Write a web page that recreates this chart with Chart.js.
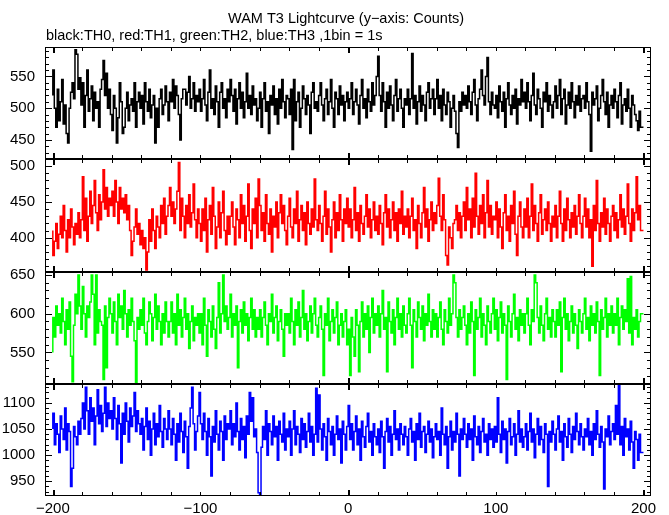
<!DOCTYPE html>
<html><head><meta charset="utf-8">
<script src="https://cdn.jsdelivr.net/npm/chart.js@4.4.1/dist/chart.umd.min.js"></script>
<style>html,body{margin:0;padding:0;background:#fff;}canvas{display:block;}</style>
</head><body>
<canvas id="c" width="669" height="515" style="width:669px;height:515px"></canvas>
<script>
const titleText = "WAM T3 Lightcurve (y\u2212axis: Counts)";
const subtitleText = "black:TH0, red:TH1, green:TH2, blue:TH3 ,1bin = 1s";
const timeStart = -200;
const binWidth = 1;
const xTickValues = [-200, -100, 0, 100, 200];
const seriesNames = ["TH0", "TH1", "TH2", "TH3"];
const seriesColors = ["#000000", "#ff0000", "#00ff00", "#0000ff"];
const yTicks0 = [450, 500, 550];
const yTicks1 = [400, 450, 500];
const yTicks2 = [550, 600, 650];
const yTicks3 = [950, 1000, 1050, 1100];
const yRange0 = [419.5, 596.4];
const yRange1 = [352.8, 509.6];
const yRange2 = [509.5, 654.4];
const yRange3 = [921.8, 1136.6];

const th0 = [
520,560,500,470,530,480,510,545,475,505,460,445,500,525,540,515,592,585,530,548,
505,540,470,520,560,495,515,535,480,525,500,510,470,530,545,575,520,555,500,530,
490,465,520,500,445,485,540,510,460,470,500,525,480,505,515,495,540,470,510,525,
500,520,475,540,510,495,530,485,505,520,445,500,470,515,530,490,505,535,510,480,
525,510,545,500,535,520,490,450,515,530,530,505,525,550,500,515,540,495,520,510,
530,495,515,545,505,480,525,560,500,515,490,535,510,470,525,540,500,515,485,530,
510,545,520,495,530,475,515,540,500,525,485,510,555,500,520,490,535,505,515,480,
500,525,470,515,540,495,510,460,520,505,535,490,515,475,530,500,545,510,485,520,
515,490,530,435,545,480,510,525,470,500,535,515,490,520,505,460,525,540,500,510,
495,520,540,505,480,515,530,490,510,545,500,470,525,515,490,535,505,520,480,510,
525,500,515,540,490,510,530,505,475,520,545,500,515,485,530,510,495,540,505,520,
550,582,520,495,540,510,470,525,500,535,505,480,520,545,495,515,530,500,470,515,
505,530,490,515,586,500,520,475,510,535,495,520,505,480,525,540,500,515,530,490,
515,545,500,520,480,530,505,490,525,510,470,500,520,495,460,438,510,495,525,505,
520,500,535,510,490,525,545,505,480,515,530,560,520,505,550,580,510,490,525,505,
500,520,485,535,510,495,525,470,515,540,505,490,520,500,530,475,515,505,545,510,
525,500,540,510,480,520,555,505,490,530,515,500,470,525,510,540,495,520,505,485,
510,535,500,520,545,490,515,530,475,505,525,500,540,510,485,520,505,535,495,515,
520,500,540,510,490,432,525,505,515,535,480,500,520,545,510,490,525,470,505,520,
500,530,510,485,520,540,475,505,515,495,530,500,470,520,505,490,480,465,495,470
];
const th1 = [
410,375,395,420,385,405,430,400,445,410,380,425,400,440,415,390,420,405,435,400,
425,485,410,455,395,430,465,420,445,480,435,410,460,425,450,495,440,470,430,455,
445,465,430,480,450,420,470,440,455,435,460,425,445,410,375,395,415,440,405,420,
390,410,385,400,355,380,425,395,440,410,385,430,415,400,445,420,455,405,430,445,
470,430,450,420,440,465,505,410,455,430,400,445,420,460,415,435,475,425,400,440,
420,395,440,410,455,380,425,445,405,470,430,385,415,450,400,435,465,410,390,430,
405,430,450,415,390,440,425,400,460,420,445,395,430,475,410,385,440,420,455,400,
482,445,410,435,395,460,420,405,440,380,430,415,450,400,435,460,420,445,410,390,
430,455,415,400,440,420,465,395,425,445,410,435,390,450,420,405,440,415,482,425,
410,445,420,395,430,465,405,440,415,380,425,450,400,435,410,460,425,395,440,420,
455,415,440,400,425,470,410,435,395,445,420,405,430,460,415,440,400,425,450,410,
430,405,445,420,390,435,460,415,440,400,425,450,410,435,395,440,420,465,405,430,
415,440,400,430,455,410,425,385,445,420,400,435,470,415,440,395,425,450,410,435,
420,445,483,430,410,460,425,375,362,415,400,385,420,425,445,410,435,400,430,450,
410,470,425,440,400,455,415,490,430,405,445,420,460,400,435,480,415,445,405,430,
425,450,400,440,415,385,435,460,410,430,395,445,420,465,405,375,430,450,415,400,
440,415,455,400,430,475,410,445,420,395,435,460,405,425,440,410,450,420,395,430,
415,445,400,430,465,420,395,440,410,455,425,400,435,415,445,405,430,460,420,400,
430,455,415,440,400,425,360,445,410,480,420,395,435,415,455,405,440,420,395,430,
445,410,435,400,425,460,415,440,405,430,475,420,395,440,410,435,485,425,445,410
];
const th2 = [
550,595,570,610,585,600,575,620,590,560,605,580,615,545,512,585,625,600,650,610,
580,635,600,570,610,595,615,650,625,560,650,575,605,590,585,515,610,530,595,620,
600,575,615,590,560,625,595,610,580,630,600,570,605,585,620,590,565,510,595,580,
605,585,620,575,560,590,615,600,565,595,625,580,610,590,560,600,575,615,590,570,
590,615,575,600,560,625,585,605,570,595,620,580,600,555,590,610,565,595,585,600,
575,600,560,620,585,545,605,590,570,610,580,555,595,640,575,600,650,590,610,580,
595,625,570,600,585,610,530,590,605,575,615,585,600,565,595,620,580,605,570,595,
580,605,570,595,615,585,560,600,590,625,575,595,610,565,590,605,580,545,600,585,
600,575,620,590,560,605,585,615,570,595,630,580,600,565,590,610,575,600,620,585,
570,595,610,580,520,600,585,620,565,590,605,575,595,615,560,585,600,570,590,605,
560,580,520,595,570,545,605,585,525,590,615,570,600,580,610,550,595,620,575,600,
585,610,570,600,630,580,595,525,615,590,575,605,560,595,620,580,600,570,610,585,
575,600,620,585,530,605,590,570,615,595,580,610,565,600,585,625,590,570,605,580,
600,570,595,615,580,560,605,590,575,620,585,600,650,640,595,570,605,580,595,610,
585,560,600,575,615,590,520,605,580,595,620,570,600,585,560,610,590,575,600,620,
580,605,565,595,615,575,600,585,515,610,590,570,600,625,580,595,565,605,585,600,
575,600,620,585,560,605,590,650,640,595,575,610,585,565,600,620,580,595,570,605,
590,570,605,585,615,525,595,620,580,600,565,590,610,575,600,585,555,605,590,575,
600,620,580,595,565,610,585,600,575,615,590,520,605,580,595,620,570,600,585,610,
575,600,585,620,560,595,610,580,605,590,645,575,648,560,595,580,605,570,590,600
];
const th3 = [
1050,1080,1020,1060,1040,1005,1075,1050,1030,1090,1010,1060,1045,940,975,1055,1035,1020,1065,1040,
1070,1100,1050,1130,1085,1040,1110,1065,1090,1020,1075,1125,1060,1095,1045,1080,1130,1055,1100,1070,
1085,1050,1110,1070,1030,1095,1060,985,1080,1040,1100,1065,1025,1090,1055,1075,1120,1045,1085,1060,
1040,1070,1010,1055,1090,1030,1065,1000,1050,1080,1020,1060,1035,1095,1045,1015,1070,1050,1030,1085,
1050,1020,1070,1040,990,1060,1025,1080,1045,1005,1065,1035,975,1055,1090,1130,1060,1010,1045,1075,
1120,1060,1030,1080,1045,1000,1070,1035,960,1055,1025,1085,1040,1010,1065,1045,990,1075,1030,1060,
1050,1085,1020,1060,1035,1100,1045,1010,1070,1030,1055,995,1075,1040,1120,1065,1110,1035,1050,1005,
928,925,1015,1055,1030,1085,1000,1060,1045,1020,1075,1035,1055,990,1065,1040,1025,1080,1010,1050,
1035,1065,1000,1050,1085,1020,1055,1040,1005,1070,1030,1060,1015,1045,1080,1025,1055,1000,1040,1128,
1025,1115,1050,1010,1060,1035,990,1070,1045,1020,1055,1000,1040,1075,1030,1050,985,1065,1040,1010,
1055,1095,1030,1060,1010,1045,1075,1020,1050,990,1065,1035,1015,1055,1080,1025,1045,1000,1060,1035,
1020,1050,1005,1065,1035,975,1045,1070,1025,1055,1000,1040,1085,1030,1050,1010,1060,1040,1020,1055,
1035,1000,1050,1070,1025,1045,990,1060,1030,1080,1015,1045,1055,1005,1040,1065,1025,1050,995,1035,
1060,1030,1045,1000,1090,1040,1020,1055,975,1035,1065,1010,1045,1025,1080,1040,960,1050,1030,1070,
1040,1015,1060,1030,1050,990,1075,1035,1020,1055,1005,1045,1070,1025,1040,1000,1060,1030,1050,1015,
1055,1025,1110,1040,1005,1065,1030,1050,985,1045,1070,1020,1035,1060,1000,1040,1085,1025,1050,1015,
1035,1060,1010,1045,1080,1025,1050,995,1040,1070,1020,1055,1030,1005,1060,1040,940,1045,1025,1065,
1040,1010,1050,1075,1025,1045,990,1060,1035,1015,1070,1040,1005,1055,1030,1080,1045,1020,1060,1035,
1010,1050,1035,1070,1020,1045,1000,1060,1030,1085,1040,1015,1055,1025,935,1050,1035,1075,1020,1045,
1060,1030,1095,1040,1135,1020,1055,1000,1070,1035,1050,1010,1065,1025,975,1045,1030,990,1040,1005
];

const allSeries = [th0, th1, th2, th3];
const allTicks = [yTicks0, yTicks1, yTicks2, yTicks3];
const allRanges = [yRange0, yRange1, yRange2, yRange3];
const axisIds = ["y0", "y1", "y2", "y3"];

function toSteps(vals) {
  const pts = vals.map((v, i) => ({x: timeStart + i * binWidth, y: v}));
  pts.push({x: timeStart + vals.length * binWidth, y: vals[vals.length - 1]});
  return pts;
}
const FONT = "'Liberation Sans', Arial, Helvetica, sans-serif";
const minusFmt = v => (v < 0 ? "\u2212" + Math.abs(v) : String(v));

const datasets = allSeries.map((s, k) => ({
  label: seriesNames[k],
  data: toSteps(s),
  yAxisID: axisIds[k],
  borderColor: seriesColors[k],
  borderWidth: 1.5,
  pointRadius: 0,
  fill: false,
  stepped: "after",
  tension: 0
}));

const scales = {
  x: {
    type: "linear", position: "bottom", min: -205.3, max: 205.1,
    grid: {display: false, drawTicks: false}, border: {display: false},
    ticks: {font: {family: FONT, size: 15}, color: "#000", padding: 4, autoSkip: false, maxRotation: 0,
            callback: v => minusFmt(v)},
    afterBuildTicks: s => { s.ticks = xTickValues.map(v => ({value: v})); },
    afterFit: s => { s.height = 19; }
  }
};
axisIds.forEach((id, k) => {
  scales[id] = {
    type: "linear", position: "left", stack: "lc", stackWeight: 1, weight: 4 - k,
    min: allRanges[k][0], max: allRanges[k][1],
    grid: {display: false, drawTicks: false}, border: {display: false},
    ticks: {font: {family: FONT, size: 15}, color: "#000", padding: 10, autoSkip: false,
            callback: v => String(v)},
    afterBuildTicks: s => { s.ticks = allTicks[k].map(v => ({value: v})); },
    afterFit: s => { s.width = 45; }
  };
});

const framePlugin = {
  id: "frame",
  afterDatasetsDraw(chart) {
    const ctx = chart.ctx;
    const xs = chart.scales.x;
    const ca = chart.chartArea;
    const L = Math.round(ca.left), R = Math.round(ca.right) - 1;
    ctx.save();
    ctx.fillStyle = "#000";
    axisIds.forEach((id, k) => {
      const ys = chart.scales[id];
      const T = Math.round(ys.top), B = Math.round(ys.bottom) - 1;
      ctx.fillRect(L, T, R - L + 1, 1);
      ctx.fillRect(L, B, R - L + 1, 1);
      ctx.fillRect(L, T, 1, B - T + 1);
      ctx.fillRect(R, T, 1, B - T + 1);
      const r = allRanges[k];
      for (let v = Math.ceil(r[0] / 10) * 10; v <= r[1]; v += 10) {
        const y = Math.round(ys.getPixelForValue(v));
        const len = (v % 50 === 0) ? 7 : 4;
        ctx.fillRect(L, y, len, 1);
        ctx.fillRect(R - len + 1, y, len, 1);
      }
      for (let v = -200; v <= 200; v += 20) {
        const x = Math.round(xs.getPixelForValue(v));
        const thick = (v % 200 === 0);
        const w = thick ? 2 : 1;
        const len = thick ? 6 : 4;
        ctx.fillRect(x, T, w, len);
        ctx.fillRect(x, B - len + 1, w, len);
      }
    });
    ctx.restore();
  },
  afterDraw(chart) {
    const ctx = chart.ctx;
    ctx.save();
    ctx.fillStyle = "#000";
    ctx.textBaseline = "alphabetic";
    ctx.font = "14.5px " + FONT;
    ctx.textAlign = "center";
    ctx.fillText(titleText, 346, 23);
    ctx.textAlign = "left";
    ctx.fillText(subtitleText, 46, 40);
    ctx.restore();
  }
};

new Chart(document.getElementById("c"), {
  type: "line",
  data: {datasets},
  options: {
    responsive: false, animation: false, devicePixelRatio: 1,
    layout: {padding: {top: 47, right: 18, left: 0, bottom: 0}},
    plugins: {legend: {display: false}, tooltip: {enabled: false}, title: {display: false}},
    scales
  },
  plugins: [framePlugin]
});
</script>
</body></html>
